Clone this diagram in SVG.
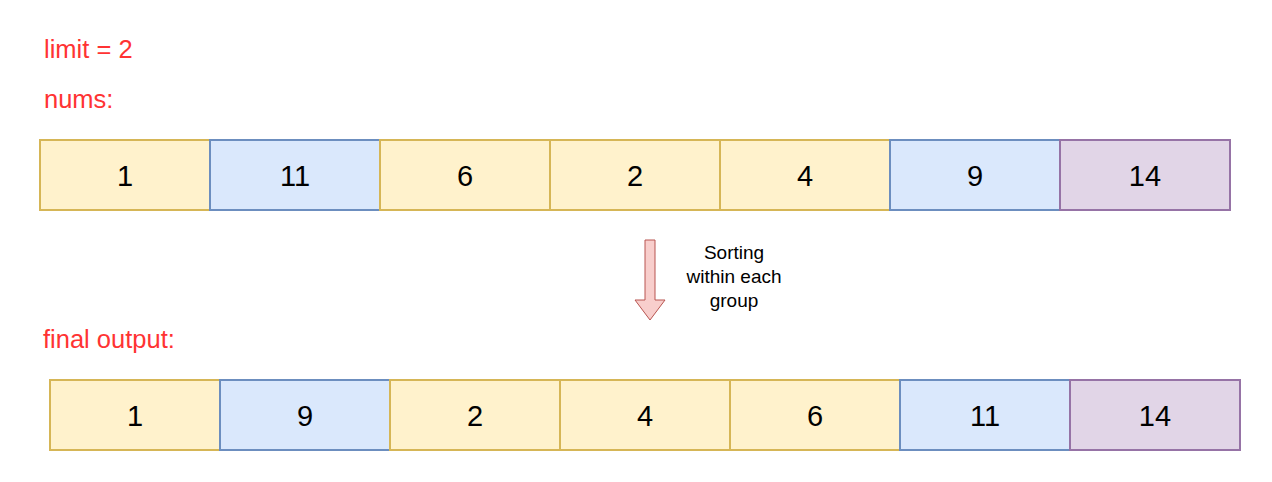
<svg xmlns="http://www.w3.org/2000/svg" width="1272" height="482" viewBox="0 0 1272 482">
<style>
.y{fill:#fff2cc;stroke:#d6b656;stroke-width:2}
.b{fill:#dae8fc;stroke:#6c8ebf;stroke-width:2}
.p{fill:#e1d5e7;stroke:#9673a6;stroke-width:2}
.n{font-family:"Liberation Sans",Arial,sans-serif;font-size:29px;fill:#000;text-anchor:middle}
.r{font-family:"Liberation Sans",Arial,sans-serif;font-size:25.5px;fill:#ff3333}
.s{font-family:"Liberation Sans",Arial,sans-serif;font-size:19px;fill:#000;text-anchor:middle}
</style>
<rect width="1272" height="482" fill="#fff"/>
<g id="label-limit"><text class="r" x="44" y="58">limit = 2</text></g>
<g id="label-nums"><text class="r" x="44" y="108">nums:</text></g>
<g id="label-final"><text class="r" x="43" y="348">final output:</text></g>
<g id="t1"><rect class="y" x="40" y="140" width="170" height="70"/><text class="n" x="125" y="186">1</text></g>
<g id="t2"><rect class="b" x="210" y="140" width="170" height="70"/><text class="n" x="295" y="186">11</text></g>
<g id="t3"><rect class="y" x="380" y="140" width="170" height="70"/><text class="n" x="465" y="186">6</text></g>
<g id="t4"><rect class="y" x="550" y="140" width="170" height="70"/><text class="n" x="635" y="186">2</text></g>
<g id="t5"><rect class="y" x="720" y="140" width="170" height="70"/><text class="n" x="805" y="186">4</text></g>
<g id="t6"><rect class="b" x="890" y="140" width="170" height="70"/><text class="n" x="975" y="186">9</text></g>
<g id="t7"><rect class="p" x="1060" y="140" width="170" height="70"/><text class="n" x="1145" y="186">14</text></g>
<g id="b1"><rect class="y" x="50" y="380" width="170" height="70"/><text class="n" x="135" y="426">1</text></g>
<g id="b2"><rect class="b" x="220" y="380" width="170" height="70"/><text class="n" x="305" y="426">9</text></g>
<g id="b3"><rect class="y" x="390" y="380" width="170" height="70"/><text class="n" x="475" y="426">2</text></g>
<g id="b4"><rect class="y" x="560" y="380" width="170" height="70"/><text class="n" x="645" y="426">4</text></g>
<g id="b5"><rect class="y" x="730" y="380" width="170" height="70"/><text class="n" x="815" y="426">6</text></g>
<g id="b6"><rect class="b" x="900" y="380" width="170" height="70"/><text class="n" x="985" y="426">11</text></g>
<g id="b7"><rect class="p" x="1070" y="380" width="170" height="70"/><text class="n" x="1155" y="426">14</text></g>
<g id="connectors">
<path d="M645,240 L655,240 L655,300 L665,300 L650,320 L635,300 L645,300 Z" fill="#f8cecc" stroke="#b85450" stroke-width="1"/>
<text class="s" x="734" y="259">Sorting</text>
<text class="s" x="734" y="283">within each</text>
<text class="s" x="734" y="307">group</text>
</g>
</svg>
